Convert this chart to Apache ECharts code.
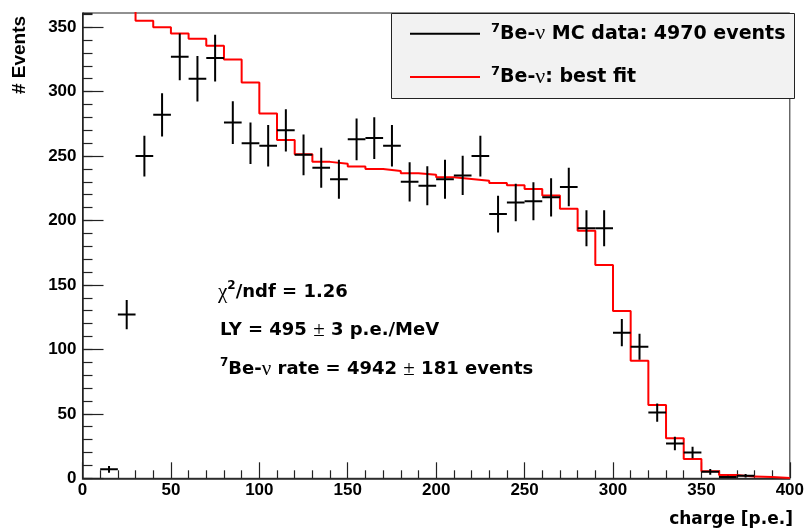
<!DOCTYPE html>
<html>
<head>
<meta charset="utf-8">
<script src="https://cdn.jsdelivr.net/npm/echarts@6/dist/echarts.min.js"></script>
<style>
  html, body { margin: 0; padding: 0; background: #fff; }
  #main { width: 807px; height: 532px; }
</style>
</head>
<body>
<div id="main"></div>
<script>
  // MC data: bin centres, counts and error bars
  var binCenters = [15, 25, 35, 45, 55, 65, 75, 85, 95, 105, 115, 125, 135, 145, 155, 165, 175, 185, 195,
    205, 215, 225, 235, 245, 255, 265, 275, 285, 295, 305, 315, 325, 335, 345, 355, 365, 375];
  var counts = [7, 127, 250, 282, 327, 310, 326, 276, 260, 258, 270, 251, 241, 232, 263, 264, 258, 230, 227,
    232, 235, 250, 205, 214, 215, 218, 226, 194, 194, 113, 102, 51, 27, 20, 5, 1, 2];
  var errors = [2.6, 11.3, 15.8, 16.8, 18.1, 17.6, 18.1, 16.6, 16.1, 16.1, 16.4, 15.8, 15.5, 15.2, 16.2, 16.2, 16.1, 15.2, 15.1,
    15.2, 15.3, 15.8, 14.3, 14.6, 14.7, 14.8, 15.0, 13.9, 13.9, 10.6, 10.1, 7.1, 5.2, 4.5, 2.2, 1.0, 1.4];

  // best fit histogram: left bin edges and contents
  var fitEdges = [20, 30, 40, 50, 60, 70, 80, 90, 100, 110, 120, 130, 140, 150, 160, 170, 180, 190, 200,
    210, 220, 230, 240, 250, 260, 270, 280, 290, 300, 310, 320, 330, 340, 350, 360, 370, 380, 390];
  var fitValues = [368, 355, 350, 345, 341, 335.5, 325, 307, 283, 262.5, 251.5, 245.5, 244, 242, 240, 238.5, 236.6, 235.5, 233.5,
    232.2, 230.8, 229.2, 227.3, 224.4, 219.5, 209.2, 192.1, 165.5, 129.8, 91.2, 56.9, 31, 15, 5.5, 2.6, 1.3, 1, 0.3];
  var xMax = 400;
  var binHalf = 5;

  var dataName = '7Be-nu MC data: 4970 events';
  var fitName = '7Be-nu: best fit';

  var crossData = [];
  for (var i = 0; i < binCenters.length; i++) {
    crossData.push([binCenters[i], counts[i], errors[i]]);
  }
  var fitPoints = [];
  for (var j = 0; j < fitEdges.length; j++) {
    fitPoints.push([fitEdges[j], fitValues[j]]);
  }
  fitPoints.push([xMax, fitValues[fitValues.length - 1]]);

  var wide = '"DejaVu Sans", sans-serif';
  var richText = {
    b: { fontFamily: wide, fontWeight: 'bold', fontSize: 18, lineHeight: 24, color: '#000' },
    sup: { fontFamily: wide, fontWeight: 'bold', fontSize: 12, lineHeight: 18, verticalAlign: 'top', color: '#000' },
    sym: { fontFamily: 'Liberation Serif', fontWeight: 'normal', fontSize: 21, lineHeight: 24, color: '#000' }
  };

  var myChart = echarts.init(document.getElementById('main'));
  var option = {
    backgroundColor: '#fff',
    animation: false,
    grid: {
      left: 82.5, top: 13, width: 710, height: 465.3,
      show: true, borderColor: '#222', borderWidth: 1, backgroundColor: 'transparent'
    },
    xAxis: [
      {
        type: 'value', min: 0, max: xMax, interval: 50,
        axisLine: { lineStyle: { color: '#222', width: 1.5 } },
        axisTick: { inside: true, length: 16, lineStyle: { color: '#222', width: 1.2 } },
        minorTick: { show: true, splitNumber: 5, length: 8, lineStyle: { color: '#222', width: 1.2 } },
        axisLabel: { margin: 4, color: '#000', fontFamily: 'Liberation Sans', fontWeight: 'bold', fontSize: 17 },
        splitLine: { show: false }
      }
    ],
    yAxis: [
      {
        type: 'value', min: 0, max: 361, interval: 50,
        axisLine: { show: true, lineStyle: { color: '#222', width: 1.5 } },
        axisTick: { show: true, inside: true, length: 21, lineStyle: { color: '#222', width: 1.2 } },
        axisLabel: { margin: 6, showMaxLabel: false, color: '#000', fontFamily: 'Liberation Sans', fontWeight: 'bold', fontSize: 17 },
        splitLine: { show: false }
      },
      {
        // minor ticks every 10
        type: 'value', min: 0, max: 361, interval: 10, position: 'left', offset: 0,
        axisLine: { show: false },
        axisTick: { show: true, inside: true, length: 10, lineStyle: { color: '#222', width: 1.2 } },
        axisLabel: { show: false },
        splitLine: { show: false }
      }
    ],
    legend: {
      orient: 'vertical',
      left: 405, top: 16.7,
      itemWidth: 70, itemHeight: 2, itemGap: 19.3,
      selectedMode: false,
      data: [
        { name: dataName, icon: 'rect' },
        { name: fitName, icon: 'rect' }
      ],
      formatter: function (name) {
        if (name === dataName) return '{sup|7}{b|Be-}{sym|ν}{b| MC data: 4970 events}';
        return '{sup|7}{b|Be-}{sym|ν}{b|: best fit}';
      },
      textStyle: {
        padding: [0, 0, 0, 6],
        lineHeight: 24,
        rich: {
          b: { fontFamily: wide, fontWeight: 'bold', fontSize: 19, lineHeight: 24, color: '#000' },
          sup: { fontFamily: wide, fontWeight: 'bold', fontSize: 13, lineHeight: 18, verticalAlign: 'top', color: '#000' },
          sym: { fontFamily: 'Liberation Serif', fontWeight: 'normal', fontSize: 22, lineHeight: 24, color: '#000' }
        }
      }
    },
    graphic: [
      {
        type: 'rect', z: 0, left: 391, top: 13,
        shape: { width: 403, height: 85 },
        style: { fill: '#f2f2f2', stroke: '#222', lineWidth: 1 }
      },
      {
        type: 'text', x: 20, y: 55, rotation: Math.PI / 2,
        style: { text: '# Events', font: 'bold 19px "Liberation Sans", Arial, sans-serif', fill: '#000', align: 'center', verticalAlign: 'middle' }
      },
      {
        type: 'text', x: 793, y: 520,
        style: { text: 'charge [p.e.]', font: 'bold 17px "DejaVu Sans", sans-serif', fill: '#000', align: 'right', verticalAlign: 'middle' }
      },
      {
        type: 'text', x: 218, y: 292,
        style: { text: '{sym|χ}{sup|2}{b|/ndf = 1.26}', rich: richText, verticalAlign: 'middle' }
      },
      {
        type: 'text', x: 220, y: 330,
        style: { text: '{b|LY = 495 }{sym|±}{b| 3 p.e./MeV}', rich: richText, verticalAlign: 'middle' }
      },
      {
        type: 'text', x: 220, y: 369,
        style: { text: '{sup|7}{b|Be-}{sym|ν}{b| rate = 4942 }{sym|±}{b| 181 events}', rich: richText, verticalAlign: 'middle' }
      }
    ],
    series: [
      {
        name: fitName,
        type: 'line',
        step: 'end',
        data: fitPoints,
        showSymbol: false,
        clip: true,
        color: '#ff0000',
        lineStyle: { color: '#ff0000', width: 2 },
        z: 3
      },
      {
        name: dataName,
        type: 'custom',
        color: '#000',
        data: crossData,
        clip: true,
        z: 4,
        renderItem: function (params, api) {
          var x = api.value(0), y = api.value(1), e = api.value(2);
          var c = api.coord([x, y]);
          var top = api.coord([x, y + e]);
          var bot = api.coord([x, y - e]);
          var l = api.coord([x - binHalf, y]);
          var r = api.coord([x + binHalf, y]);
          var st = { stroke: '#000', lineWidth: 2 };
          return {
            type: 'group',
            children: [
              { type: 'line', shape: { x1: c[0], y1: top[1], x2: c[0], y2: bot[1] }, style: st },
              { type: 'line', shape: { x1: l[0], y1: c[1], x2: r[0], y2: c[1] }, style: st }
            ]
          };
        }
      }
    ]
  };
  myChart.setOption(option);
</script>
</body>
</html>
